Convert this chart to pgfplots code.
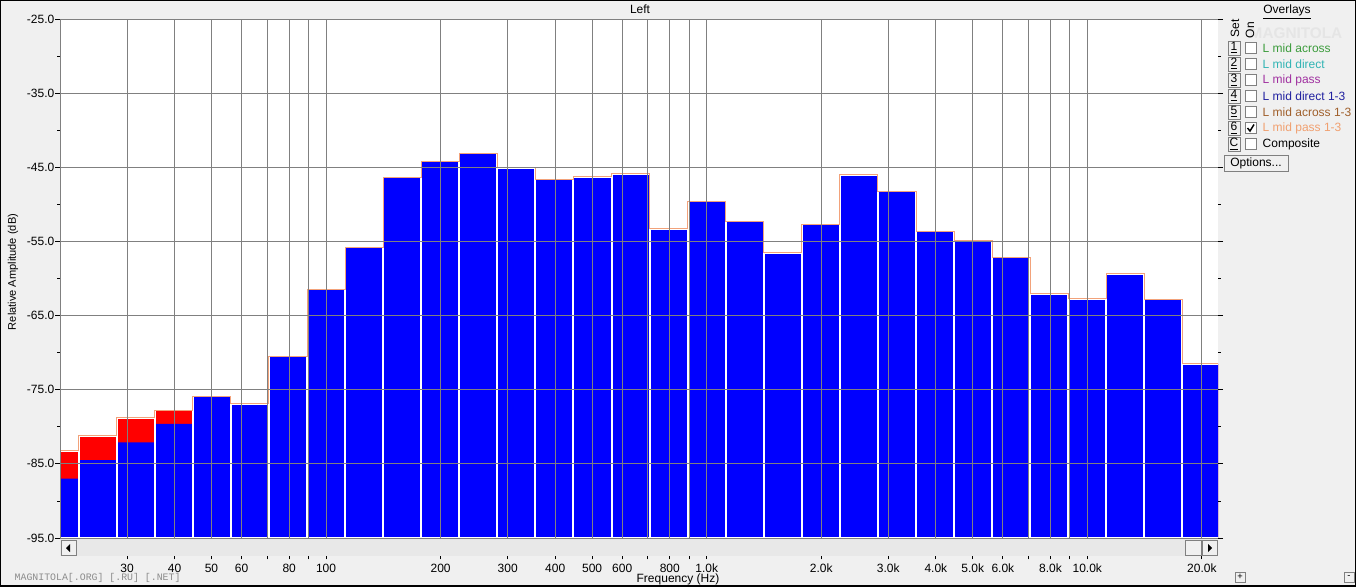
\documentclass[border=0pt]{standalone}
\usepackage{pgfplots}
\usepackage{pgfplotstable}
\pgfplotsset{compat=1.18}
\usepackage{fontspec}
\setmainfont{Liberation Sans}
\setmonofont{Liberation Mono}

\definecolor{panel}{HTML}{F0F0F0}
\definecolor{gridgray}{HTML}{808080}
\definecolor{passline}{HTML}{F2A27A}
\definecolor{ovA}{HTML}{3C9C3C}
\definecolor{ovB}{HTML}{30B4B4}
\definecolor{ovC}{HTML}{A030A0}
\definecolor{ovD}{HTML}{2020A0}
\definecolor{ovE}{HTML}{A0602C}
\definecolor{ovF}{HTML}{F0A070}

% 1/3 octave bands: lower band edge (Hz), level (dB); last row closes the last band
\pgfplotstableread{
f      db
17.78  -83.2
22.39  -81.2
28.18  -78.8
35.48  -77.8
44.67  -75.9
56.23  -76.9
70.79  -70.5
89.13  -61.45
112.2  -55.8
141.3  -46.35
177.8  -44.2
223.9  -43.1
281.8  -45.05
354.8  -46.6
446.7  -46.3
562.3  -45.9
707.9  -53.3
891.3  -49.6
1122   -52.3
1413   -56.5
1778   -52.7
2239   -46.0
2818   -48.2
3548   -53.6
4467   -54.9
5623   -57.1
7079   -62.05
8913   -62.7
11220  -59.35
14125  -62.8
17783  -71.5
22387  -71.5
}\passdata

\pgfplotstableread{
f      db
17.78  -87.0
22.39  -84.5
28.18  -82.1
35.48  -79.6
44.67  -75.9
56.23  -76.9
70.79  -70.5
89.13  -61.45
112.2  -55.8
141.3  -46.35
177.8  -44.2
223.9  -43.1
281.8  -45.05
354.8  -46.6
446.7  -46.3
562.3  -45.9
707.9  -53.3
891.3  -49.6
1122   -52.3
1413   -56.5
1778   -52.7
2239   -46.0
2818   -48.2
3548   -53.6
4467   -54.9
5623   -57.1
7079   -62.05
8913   -62.7
11220  -59.35
14125  -62.8
17783  -71.5
22387  -71.5
}\leftdata

\newcommand{\uifont}{\fontsize{9}{10}\selectfont}

\begin{document}
\begin{tikzpicture}[x=0.75pt,y=-0.75pt]
\path[use as bounding box] (0,0) rectangle (1356,586);
\fill[panel] (0,0) rectangle (1356,586);

\begin{axis}[
  at={(45pt,-403.5pt)}, anchor=south west,
  scale only axis, width=868.5pt, height=389.25pt,
  xmode=log, xmin=20, xmax=22050,
  ymin=0, ymax=70,
  y filter/.expression={y+95},
  axis background/.style={fill=white},
  axis on top,
  axis line style={draw=none},
  xtick={30,40,50,60,70,80,90,100,200,300,400,500,600,700,800,900,1000,2000,3000,4000,5000,6000,7000,8000,9000,10000,20000},
  xmajorticks=false,
  ytick={0,10,...,70},
  yticklabels={-95.0,-85.0,-75.0,-65.0,-55.0,-45.0,-35.0,-25.0},
  minor ytick={5,15,...,65},
  tick align=outside,
  major tick length=3.75pt,
  minor tick length=2pt,
  y tick style={black, line width=0.6pt},
  yticklabel style={font=\uifont, xshift=3pt},
  grid=major,
  major grid style={gridgray, line width=0.75pt},
]
\addplot[ybar interval, fill=red, draw=none] table[x=f, y=db] {\passdata};
\addplot[ybar interval, fill=blue, draw=none] table[x=f, y=db] {\leftdata};
\addplot[ybar interval, fill=none, draw=white, line width=1.5pt] table[x=f, y=db] {\passdata};
\addplot[const plot mark left, passline, line width=0.75pt, mark=none] table[x=f, y=db] {\passdata};
\draw[gridgray, line width=1.5pt] (rel axis cs:0,0) -- (rel axis cs:0,1) -- (rel axis cs:1,1);
\end{axis}

% scroll bar under the plot
\fill[black!9] (60,539) rectangle (1218,556);
\draw[gray, fill=panel] (61,540) rectangle (76,555);
\fill[black] (70,544) -- (70,552) -- (66,548) -- cycle;
\draw[gray, fill=panel] (1185,540) rectangle (1201,555);
\draw[gray, fill=panel] (1202,540) rectangle (1217,555);
\fill[black] (1208,544) -- (1208,552) -- (1212,548) -- cycle;

\begin{axis}[
  at={(45pt,-416.25pt)}, anchor=north west,
  scale only axis, width=868.5pt, height=1pt,
  xmode=log, xmin=20, xmax=22050,
  ymin=0, ymax=1,
  hide y axis,
  axis x line*=bottom,
  x axis line style={draw=none},
  tick align=outside,
  major tick length=2.25pt,
  xtick={30,40,50,60,70,80,90,100,200,300,400,500,600,700,800,900,1000,2000,3000,4000,5000,6000,7000,8000,9000,10000,20000},
  xticklabels={30,40,50,60,,80,,100,200,300,400,500,600,,800,,1.0k,2.0k,3.0k,4.0k,5.0k,6.0k,,8.0k,,10.0k,20.0k},
  xtick style={black, line width=0.6pt},
  xticklabel style={font=\uifont},
]
\end{axis}

\node[font=\uifont] at (640,9) {Left};
\node[font=\fontsize{8.3}{9}\selectfont, rotate=90] at (13,272) {Relative Amplitude (dB)};
\node[font=\uifont] at (678,579) {Frequency (Hz)};
\node[font=\ttfamily\fontsize{7.4}{8}\selectfont, text=black!45, anchor=west] at (10,578) {MAGNITOLA[.ORG] [.RU] [.NET]};

% overlay panel
\node[font=\fontsize{11.5}{12}\selectfont\bfseries, text=black!10] at (1296,33) {MAGNITOLA};
\node[font=\uifont] at (1287,12) {\underline{Overlays}};
\node[font=\uifont, rotate=90] at (1235,28) {Set};
\node[font=\uifont, rotate=90] at (1250,30) {On};
\foreach \y/\k/\c/\t in {48/1/ovA/L mid across, 64/2/ovB/L mid direct, 80/3/ovC/L mid pass,
    96/4/ovD/L mid direct 1-3, 112/5/ovE/L mid across 1-3, 128/6/ovF/L mid pass 1-3, 144/C/black/Composite} {
  \draw[gray, fill=panel] (1228,{\y-7}) rectangle (1240,{\y+7});
  \node[font=\uifont] at (1234,\y) {\underline{\k}};
  \draw[gray, fill=white] (1245,{\y-5.5}) rectangle (1256,{\y+5.5});
  \node[font=\uifont, text=\c, anchor=west] at (1258,\y) {\t};
}
\draw[black, line width=1.1pt] (1247.5,128) -- (1250,131) -- (1254,124.5);
\draw[gray, fill=panel] (1224,155) rectangle (1288,171);
\node[font=\uifont] at (1256,163) {Options...};

\draw[gray] (1235,572) rectangle (1245,582);
\node[font=\fontsize{7}{8}\selectfont] at (1240,577) {+};
\draw[gray] (1344,572) rectangle (1354,582);
\node[font=\fontsize{7}{8}\selectfont] at (1349,577) {-};

\draw[black, line width=1.5pt] (0,0) rectangle (1356,586);
\end{tikzpicture}
\end{document}
